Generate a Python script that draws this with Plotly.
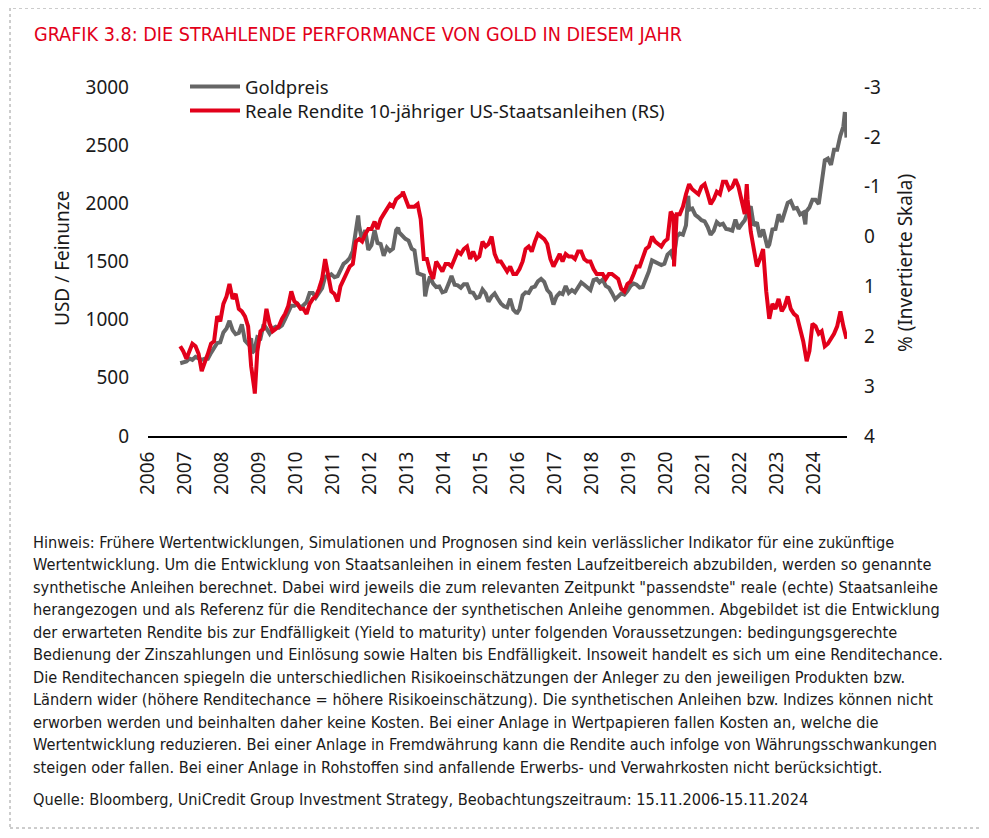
import pandas as pd
import plotly.graph_objects as go

# ---------------- data ----------------
# monthly observations, mid-month, Nov 2006 .. Nov 2024
gold_price = [
    625, 630,                                                        # 2006 Nov-Dec
    640, 665, 655, 680, 665, 655, 665, 665, 715, 760, 800, 805,      # 2007
    890, 925, 990, 910, 875, 885, 960, 820, 790, 840, 735, 850,      # 2008
    840, 960, 925, 880, 925, 940, 930, 950, 1005, 1055, 1120, 1120,  # 2009
    1135, 1100, 1125, 1150, 1230, 1230, 1190, 1225, 1270, 1370, 1370, 1390,  # 2010
    1365, 1375, 1420, 1480, 1500, 1530, 1590, 1780, 1810, 1680, 1770, 1600,  # 2011
    1640, 1770, 1660, 1650, 1550, 1620, 1590, 1610, 1770, 1750, 1720, 1695,  # 2012
    1680, 1610, 1595, 1400, 1390, 1380, 1280, 1370, 1310, 1280, 1285, 1235,  # 2013
    1245, 1310, 1375, 1300, 1295, 1275, 1305, 1305, 1235, 1230, 1185, 1195,  # 2014
    1260, 1225, 1155, 1200, 1225, 1180, 1140, 1115, 1105, 1180, 1085, 1060,  # 2015
    1090, 1210, 1235, 1230, 1275, 1285, 1330, 1350, 1325, 1255, 1225, 1130,  # 2016
    1200, 1230, 1220, 1290, 1230, 1255, 1235, 1285, 1320, 1300, 1280, 1255,  # 2017
    1340, 1350, 1320, 1345, 1290, 1275, 1230, 1180, 1200, 1225, 1215, 1245,  # 2018
    1290, 1310, 1300, 1275, 1280, 1345, 1415, 1510, 1495, 1490, 1470, 1480,  # 2019
    1560, 1585, 1520, 1715, 1740, 1730, 1810, 1945, 1955, 1900, 1880, 1855,  # 2020
    1845, 1795, 1730, 1765, 1840, 1815, 1825, 1780, 1775, 1765, 1860, 1780,  # 2021
    1820, 1855, 1920, 1975, 1810, 1835, 1710, 1775, 1665, 1645, 1775, 1780,  # 2022
    1905, 1840, 1920, 2005, 2020, 1955, 1960, 1905, 1920, 1930, 1965, 2030,  # 2023
    2030, 1995, 2160, 2370, 2385, 2330, 2460, 2460, 2580, 2660, 2565,        # 2024
]

real_yield = [
    2.2, 2.3,                                                        # 2006 Nov-Dec
    2.45, 2.3, 2.15, 2.2, 2.35, 2.7, 2.55, 2.35, 2.15, 2.1, 1.6, 1.7,  # 2007
    1.35, 1.2, 0.95, 1.25, 1.15, 1.45, 1.5, 1.6, 1.8, 2.6, 3.05, 2.3,  # 2008
    1.9, 1.85, 1.45, 1.75, 1.9, 1.85, 1.8, 1.65, 1.55, 1.4, 1.1, 1.3,  # 2009
    1.35, 1.45, 1.45, 1.55, 1.35, 1.25, 1.2, 1.05, 0.85, 0.45, 0.75, 1.1,  # 2010
    1.15, 1.3, 1.0, 0.85, 0.75, 0.6, 0.55, 0.1, 0.05, 0.1, -0.05, -0.15,  # 2011
    -0.15, -0.3, -0.15, -0.35, -0.45, -0.55, -0.65, -0.6, -0.75, -0.8, -0.85, -0.75,  # 2012
    -0.6, -0.6, -0.6, -0.65, -0.35, 0.45, 0.45, 0.7, 0.85, 0.5, 0.6, 0.7,  # 2013
    0.55, 0.55, 0.6, 0.45, 0.3, 0.35, 0.25, 0.2, 0.45, 0.3, 0.45, 0.4,  # 2014
    0.1, 0.2, 0.15, 0.0, 0.35, 0.5, 0.5, 0.6, 0.7, 0.6, 0.75, 0.75,  # 2015
    0.65, 0.5, 0.25, 0.2, 0.3, 0.1, -0.05, 0.0, 0.05, 0.15, 0.45, 0.6,  # 2016
    0.45, 0.35, 0.5, 0.35, 0.4, 0.4, 0.45, 0.3, 0.3, 0.45, 0.5, 0.5,  # 2017
    0.65, 0.75, 0.75, 0.75, 0.85, 0.75, 0.75, 0.8, 0.85, 1.05, 1.1, 0.95,  # 2018
    0.9, 0.75, 0.6, 0.6, 0.45, 0.25, 0.2, 0.0, 0.1, 0.15, 0.2, 0.1,  # 2019
    0.05, -0.5, -0.4, -0.45, -0.45, -0.6, -0.85, -1.05, -0.95, -0.9, -0.85, -1.0,  # 2020
    -1.05, -0.85, -0.65, -0.75, -0.9, -0.85, -1.1, -1.1, -0.95, -1.0, -1.15, -1.0,  # 2021
    -0.75, -0.45, -0.75, -0.1, 0.2, 0.6, 0.45, 0.25, 1.1, 1.65, 1.35, 1.45,  # 2022
    1.25, 1.5, 1.4, 1.2, 1.45, 1.55, 1.6, 1.85, 2.1, 2.45, 2.3, 1.75,  # 2023
    1.8, 1.95, 1.9, 2.2, 2.15, 2.05, 1.95, 1.8, 1.55, 1.8, 2.05,       # 2024
]

# extra observations at visible peaks / troughs
gold_extra_dates = ["2008-10-24", "2011-09-06", "2012-10-04", "2013-06-28", "2015-12-17",
                    "2018-08-16", "2020-08-06", "2022-09-28", "2023-10-06", "2024-10-30"]
gold_extra_values = [715, 1895, 1790, 1200, 1050, 1175, 2065, 1620, 1820, 2785]

yield_extra_dates = ["2008-11-20", "2012-11-20", "2020-03-19", "2022-03-07",
                     "2023-10-19", "2024-09-16"]
yield_extra_values = [3.15, -0.9, 0.6, -1.05, 2.5, 1.5]

series_names = ["Goldpreis", "Reale Rendite 10-jähriger US-Staatsanleihen (RS)"]
left_ticks = [0, 500, 1000, 1500, 2000, 2500, 3000]
right_ticks = [-3, -2, -1, 0, 1, 2, 3, 4]
right_tick_labels = ["-3", "-2", "-1", "0", "1", "2", "3", "4"]

title_text = "GRAFIK 3.8: DIE STRAHLENDE PERFORMANCE VON GOLD IN DIESEM JAHR"
left_title = "USD / Feinunze"
right_title = "% (Invertierte Skala)"
footnote_lines = [
    "Hinweis: Frühere Wertentwicklungen, Simulationen und Prognosen sind kein verlässlicher Indikator für eine zukünftige",
    "Wertentwicklung. Um die Entwicklung von Staatsanleihen in einem festen Laufzeitbereich abzubilden, werden so genannte",
    "synthetische Anleihen berechnet. Dabei wird jeweils die zum relevanten Zeitpunkt \"passendste\" reale (echte) Staatsanleihe",
    "herangezogen und als Referenz für die Renditechance der synthetischen Anleihe genommen. Abgebildet ist die Entwicklung",
    "der erwarteten Rendite bis zur Endfälligkeit (Yield to maturity) unter folgenden Voraussetzungen: bedingungsgerechte",
    "Bedienung der Zinszahlungen und Einlösung sowie Halten bis Endfälligkeit. Insoweit handelt es sich um eine Renditechance.",
    "Die Renditechancen spiegeln die unterschiedlichen Risikoeinschätzungen der Anleger zu den jeweiligen Produkten bzw.",
    "Ländern wider (höhere Renditechance = höhere Risikoeinschätzung). Die synthetischen Anleihen bzw. Indizes können nicht",
    "erworben werden und beinhalten daher keine Kosten. Bei einer Anlage in Wertpapieren fallen Kosten an, welche die",
    "Wertentwicklung reduzieren. Bei einer Anlage in Fremdwährung kann die Rendite auch infolge von Währungsschwankungen",
    "steigen oder fallen. Bei einer Anlage in Rohstoffen sind anfallende Erwerbs- und Verwahrkosten nicht berücksichtigt.",
]
source_line = "Quelle: Bloomberg, UniCredit Group Investment Strategy, Beobachtungszeitraum: 15.11.2006-15.11.2024"

# ---------------- build series ----------------
months = pd.date_range("2006-11-01", "2024-11-01", freq="MS") + pd.Timedelta(days=14)


def build(values, xd, xv):
    idx = list(months) + list(pd.to_datetime(xd))
    return pd.Series(list(values) + list(xv), index=idx).sort_index()


gold = build(gold_price, gold_extra_dates, gold_extra_values)
ry = build(real_yield, yield_extra_dates, yield_extra_values)

# ---------------- layout geometry (page has an 8px body margin) ----------------
OFF = 8
W, H = 989 - 2 * OFF, 838 - 2 * OFF
L, R, T, B = 148, 847, 87, 436          # plot area in page pixels
PW, PH = R - L, B - T


def px(x):
    return (x - L) / PW


def py(y):
    return (B - y) / PH


RED = "#E2001A"
GREY = "#666666"
TXT = "#1a1a1a"
TICKFONT = dict(family="Noto Sans", size=19, color=TXT)
LEGFONT = dict(family="Noto Sans", size=18.5, color=TXT)
NOTEFONT = dict(family="DejaVu Sans Condensed, Liberation Sans Narrow, Noto Sans", size=16.2, color=TXT)

fig = go.Figure()
fig.add_trace(go.Scatter(x=gold.index, y=gold.values, name=series_names[0], mode="lines",
                         line=dict(color=GREY, width=4), yaxis="y", showlegend=False))
fig.add_trace(go.Scatter(x=ry.index, y=ry.values, name=series_names[1], mode="lines",
                         line=dict(color=RED, width=4), yaxis="y2", showlegend=False))

annotations = [
    dict(text=title_text, x=px(32), y=py(34), xref="paper", yref="paper", xanchor="left",
         yanchor="middle", showarrow=False,
         font=dict(family="DejaVu Sans Condensed, Liberation Sans Narrow, Noto Sans", size=19.6, color=RED)),
    dict(text=left_title, x=px(62), y=py(258), xref="paper", yref="paper", xanchor="center",
         yanchor="middle", textangle=-90, showarrow=False, font=TICKFONT),
    dict(text=right_title, x=px(905), y=py(263), xref="paper", yref="paper", xanchor="center",
         yanchor="middle", textangle=-90, showarrow=False, font=TICKFONT),
]
# legend (drawn manually to match the compact row spacing)
legend_rows = [(series_names[0], GREY, 86.5), (series_names[1], RED, 110.5)]
shapes = []
for name, col, yy in legend_rows:
    shapes.append(dict(type="line", xref="paper", yref="paper", x0=px(190), x1=px(240),
                       y0=py(yy), y1=py(yy), line=dict(color=col, width=4)))
    annotations.append(dict(text=name, x=px(244), y=py(yy), xref="paper", yref="paper",
                            xanchor="left", yanchor="middle", showarrow=False, borderpad=0,
                            font=LEGFONT))

for i, line in enumerate(footnote_lines):
    annotations.append(dict(text=line, x=px(32), y=py(542 + i * 22.5), xref="paper", yref="paper",
                            xanchor="left", yanchor="middle", showarrow=False, borderpad=0,
                            font=NOTEFONT))
annotations.append(dict(text=source_line, x=px(32), y=py(800), xref="paper", yref="paper",
                        xanchor="left", yanchor="middle", showarrow=False, borderpad=0,
                        font=NOTEFONT))

shapes.append(dict(type="rect", xref="paper", yref="paper", x0=px(10), x1=px(983),
                   y0=py(828), y1=py(8), line=dict(color="#9a9a9a", width=1, dash="dot"),
                   fillcolor="rgba(0,0,0,0)", layer="below"))

fig.update_layout(
    width=W, height=H,
    margin=dict(l=L - OFF, r=W - (R - OFF), t=T - OFF, b=H - (B - OFF), pad=0),
    paper_bgcolor="white", plot_bgcolor="white",
    showlegend=False,
    xaxis=dict(type="date", range=["2006-01-01", "2024-11-20"], dtick="M12", tick0="2006-01-01",
               tickformat="%Y", tickangle=-90, showgrid=False, zeroline=False,
               showline=True, linecolor="black", linewidth=2, ticks="", ticklabelstandoff=6,
               tickfont=TICKFONT),
    yaxis=dict(range=[0, 3000], tickvals=left_ticks, showgrid=False, zeroline=False,
               showline=False, ticks="", ticklabelstandoff=18, tickfont=TICKFONT),
    yaxis2=dict(range=[4, -3], tickvals=right_ticks, ticktext=right_tick_labels, overlaying="y",
                side="right", showgrid=False, zeroline=False, showline=False, ticks="",
                ticklabelstandoff=16, tickfont=TICKFONT),
    annotations=annotations,
    shapes=shapes,
)

fig.write_html("out.html")
